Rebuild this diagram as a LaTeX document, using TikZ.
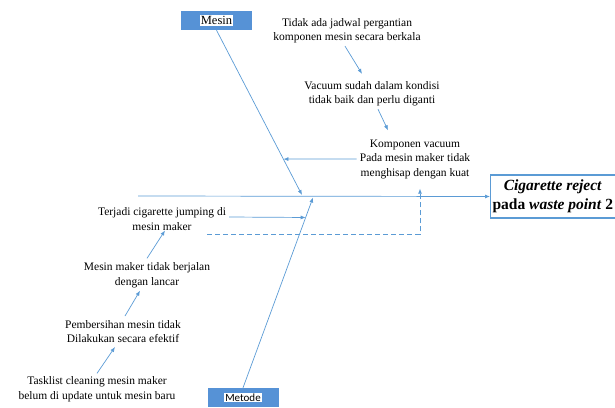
\documentclass[tikz,border=0pt]{standalone}
\usepackage{fontspec}
\setmainfont{Liberation Serif}
\newfontfamily\metodefont{Carlito}
\usetikzlibrary{arrows.meta,calc}

\definecolor{boneblue}{RGB}{91,155,213}
\definecolor{catblue}{RGB}{86,146,214}

\tikzset{
  bone/.style={draw=boneblue, line width=0.7pt, -{Latex[length=5pt,width=4pt]}},
  cause/.style={align=center, inner sep=1pt, font=\fontsize{11.5}{14.5}\selectfont},
  catbox/.style={fill=catblue, minimum width=71pt, minimum height=19pt, inner sep=0pt},
}

\begin{document}
\begin{tikzpicture}[x=1pt,y=-1pt]
\useasboundingbox (0,0) rectangle (615,407);
\setlength{\fboxsep}{1pt}

% kategori
\node[catbox] (mesin) at (216.5,20.5) {\colorbox{white}{\fontsize{12.5}{13}\selectfont Mesin}};
\node[catbox] (metode) at (243,397.5) {\colorbox{white}{\metodefont\fontsize{11}{12}\selectfont Metode}};

% akibat
\node[draw=boneblue, line width=1.2pt, fill=white, align=center, inner xsep=2pt, inner ysep=2pt,
      anchor=west, minimum height=43pt, font=\fontsize{15.5}{19.5}\selectfont\bfseries] (effect) at (490,196.5)
      {\textit{Cigarette reject}\\pada \textit{waste point} 2};

% tulang utama
\coordinate (spinestart) at (138,196);
\coordinate (mesinend) at (302,195);
\coordinate (metodeend) at (313,197.5);
\draw[bone] (spinestart) -- (effect.west);
\draw[bone] (mesin.south) -- (mesinend);
\draw[bone] (metode.north) -- (metodeend);

% sebab mesin
\node[cause] (jadwal) at (347,30.5) {Tidak ada jadwal pergantian\\komponen mesin secara berkala};
\node[cause] (vacuum) at (372,93.5) {Vacuum sudah dalam kondisi\\tidak baik dan perlu diganti};
\node[cause] (komponen) at (415,159) {Komponen vacuum\\Pada mesin maker tidak\\menghisap dengan kuat};

\draw[bone] ($(jadwal.south)+(-2,2)$) -- ($(vacuum.north)+(-10,-6)$);
\draw[bone] ($(vacuum.south)+(6,2)$) -- ($(komponen.north)+(-27,-8)$);
\draw[bone] ($(komponen.west)+(-2,0)$) -- ($(mesin.south)!0.782!(mesinend)$);

% sebab metode
\node[cause] (jumping) at (162,219) {Terjadi cigarette jumping di\\mesin maker};
\node[cause] (lancar) at (147,275) {Mesin maker tidak berjalan\\dengan lancar};
\node[cause] (efektif) at (123,331.5) {Pembersihan mesin tidak\\Dilakukan secara efektif};
\node[cause] (tasklist) at (97,389) {Tasklist cleaning mesin maker\\belum di update untuk mesin baru};

\draw[bone] (tasklist.north) ++(0,-2) -- ($(efektif.south)+(-8,3)$);
\draw[bone] ($(efektif.north)+(2,-3)$) -- ($(lancar.south)+(-7,2)$);
\draw[bone] ($(lancar.north)+(0,-3)$) -- ($(jumping.south)+(3,-1)$);
\draw[bone] ($(jumping.east)+(2,-2)$) -- ($(metode.north)!0.895!(metodeend)$);
\draw[bone, dash pattern=on 5pt off 3pt] ($(jumping.south east)+(-20,3)$) -| ($(komponen.south)+(5,9)$);
\end{tikzpicture}
\end{document}
